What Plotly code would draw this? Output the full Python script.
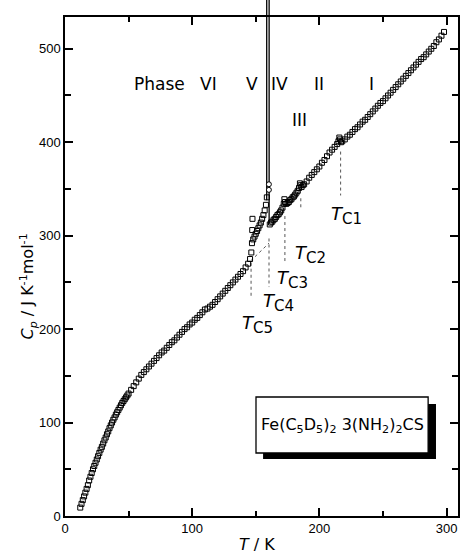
import plotly.graph_objects as go

# ---------------- data ----------------
T_K = [12, 13, 14, 15, 16, 17, 18, 19, 20, 21, 22, 23, 24, 25, 26, 27, 28, 29, 30,
       31, 32, 33, 34, 35, 36, 37, 38, 39, 40, 41, 42, 43, 44, 45, 46, 47, 48, 49, 50,
       52, 54, 56, 58, 60, 62, 64, 66, 68, 70, 72, 74, 76, 78, 80, 82, 84, 86, 88, 90,
       92, 94, 96, 98, 100, 102, 104, 106, 108, 110, 112, 114, 116, 118, 120, 122, 124,
       126, 128, 130, 132, 134, 136, 138, 140, 142, 144, 145.5, 146.5, 147, 147.2, 147.4,
       148, 149, 150, 151, 152, 153, 154, 155, 156, 157, 158, 158.7,
       161, 162, 163, 164, 165, 166, 167, 168, 169, 170, 171, 172, 172.5, 173, 174, 175,
       176, 177, 178, 179, 180, 181, 182, 183, 184, 184.7, 185.3, 186, 187, 188, 190,
       192, 194, 196, 198, 200, 202, 204, 206, 208, 210, 212, 214, 215, 215.7, 216.3,
       217, 218, 220, 222, 224, 226, 228, 230, 232, 234, 236, 238, 240, 242, 244, 246,
       248, 250, 252, 254, 256, 258, 260, 262, 264, 266, 268, 270, 272, 274, 276, 278,
       280, 282, 284, 286, 288, 290, 292, 294, 296, 298]
Cp = [9, 13, 17, 21, 25, 29, 33, 38, 42, 46, 50, 53.5, 57, 60.5, 64, 67.5, 71, 74, 77.5,
      81, 84, 87.5, 90.5, 94, 97, 100, 103, 105.5, 108.5, 111, 113.5, 116, 118.5, 121, 123, 125, 127, 129, 131,
      135, 139, 143, 147, 151, 154, 157, 160, 163, 166, 169, 172, 175, 177, 180, 183, 186, 188, 191, 194,
      197, 200, 202, 205, 207, 210, 212, 215, 218, 221, 222, 224, 226, 229, 232, 235, 238,
      241, 244, 247, 250, 253, 256, 259, 262, 266, 270, 275, 282, 292, 306, 318,
      296, 299, 302, 305, 308, 311, 314, 318, 322, 327, 333, 341,
      312, 314, 315, 317, 318, 320, 322, 323, 325, 327, 330, 334, 339, 336, 334, 335,
      336, 338, 339, 341, 342, 344, 346, 348, 351, 356, 354, 352, 354, 355, 358,
      362, 365, 368, 371, 374, 378, 381, 385, 389, 392, 395, 398, 401, 405, 403,
      400, 401, 403, 406, 408, 411, 414, 416, 419, 422, 424, 427, 430, 433, 436, 439,
      442, 444, 447, 450, 453, 456, 459, 462, 465, 468, 471, 474, 477, 480, 483, 486,
      489, 491, 494, 497, 500, 503, 507, 510, 514, 518]

# off-scale peak at the phase V -> IV transition
peak_T = [158.6, 158.6, 160.5, 160.5]
peak_Cp = [338, 5000, 5000, 313]
peak_pts_T = [160.3, 160.3]
peak_pts_Cp = [355, 349]

# transition temperatures with guide lines and labels
tc_names = ["C1", "C2", "C3", "C4", "C5"]
tc_T = [216.7, 185.4, 172.9, 160.4, 146.3]
tc_top = [390, 340, 321, 297, 271]
tc_bot = [343, 329, 272, 245, 234]
tc_label_T = [221, 193, 179, 168, 151]
tc_label_Cp = [322, 280, 253, 229, 205]

baseline_T = [146, 160.4]
baseline_Cp = [273, 292]

phase_names = ["Phase", "VI", "V", "IV", "III", "II", "I"]
phase_T = [74, 113, 147, 169, 184, 200, 241]
phase_Cp = [462, 462, 462, 462, 424, 462, 462]

x_range = [0, 309]
y_range = [0, 534]

# ---------------- figure ----------------
fig = go.Figure()

for t, a, b in zip(tc_T, tc_top, tc_bot):
    fig.add_trace(go.Scatter(x=[t, t], y=[a, b], mode="lines",
                             line=dict(color="#555", width=1, dash="3px,3px"),
                             showlegend=False, hoverinfo="skip"))
fig.add_trace(go.Scatter(x=baseline_T, y=baseline_Cp, mode="lines",
                         line=dict(color="#555", width=1, dash="3px,3px"),
                         showlegend=False, hoverinfo="skip"))

fig.add_trace(go.Scatter(x=peak_T, y=peak_Cp, mode="lines",
                         line=dict(color="black", width=1.3),
                         showlegend=False, hoverinfo="skip"))

fig.add_trace(go.Scatter(x=T_K, y=Cp, mode="markers",
                         marker=dict(symbol="square-open", size=5,
                                     color="black", line=dict(width=1)),
                         showlegend=False))
fig.add_trace(go.Scatter(x=peak_pts_T, y=peak_pts_Cp, mode="markers",
                         marker=dict(symbol="circle", size=5, color="white",
                                     line=dict(width=1, color="black")),
                         showlegend=False))

span = x_range[1] - x_range[0]
for t in (peak_T[0], peak_T[2]):
    px = (t - x_range[0]) / span
    fig.add_shape(type="line", xref="paper", yref="paper", x0=px, x1=px,
                  y0=1.0, y1=1.04, line=dict(color="black", width=1.3))

font_main = "DejaVu Sans, Liberation Sans, Arial"

for name, t, c in zip(phase_names, phase_T, phase_Cp):
    fig.add_annotation(x=t, y=c, text=name, showarrow=False,
                       xanchor="center", yanchor="middle",
                       font=dict(family=font_main, size=17, color="black"))

for name, t, c in zip(tc_names, tc_label_T, tc_label_Cp):
    fig.add_annotation(x=t, y=c, showarrow=False, xanchor="center", yanchor="middle",
                       text=f"<i>T</i><sub><span style='font-size:15px'>{name}</span></sub>",
                       font=dict(family=font_main, size=18, color="black"))

# compound box with shadow
fig.add_shape(type="rect", xref="paper", yref="paper", x0=0.504, x1=0.944,
              y0=0.1142, y1=0.2244, fillcolor="black", line=dict(width=0))
fig.add_shape(type="rect", xref="paper", yref="paper", x0=0.486, x1=0.924,
              y0=0.1263, y1=0.2385, fillcolor="white",
              line=dict(color="black", width=1.3))
fig.add_annotation(xref="paper", yref="paper", x=0.705, y=0.182, showarrow=False,
                   xanchor="center", yanchor="middle",
                   text="Fe(C<sub>5</sub>D<sub>5</sub>)<sub>2</sub> 3(NH<sub>2</sub>)<sub>2</sub>CS",
                   font=dict(family=font_main, size=16, color="black"))

# axis titles
fig.add_annotation(xref="paper", yref="paper", x=0.489, y=-0.058, showarrow=False,
                   xanchor="center", yanchor="middle",
                   text="<i>T</i> / K", font=dict(family=font_main, size=16, color="black"))
fig.add_annotation(xref="paper", yref="paper", x=-0.094, y=0.46, showarrow=False,
                   xanchor="center", yanchor="middle", textangle=-90,
                   text="<i>C<sub>p</sub></i> / J K<sup>-1</sup>mol<sup>-1</sup>",
                   font=dict(family=font_main, size=16, color="black"))

axis_common = dict(showline=True, linecolor="black", linewidth=1.5, mirror="ticks",
                   ticks="inside", ticklen=8, tickwidth=1.5, tickcolor="black",
                   showgrid=False, zeroline=False,
                   tickfont=dict(family="Liberation Sans, Arial", size=13, color="black"))

fig.update_xaxes(range=x_range, tickvals=[0, 100, 200, 300],
                 minor=dict(tickvals=[50, 150, 250], ticklen=5, tickwidth=1.5,
                            tickcolor="black", ticks="inside"),
                 **axis_common)
fig.update_yaxes(range=y_range, tickvals=[0, 100, 200, 300, 400, 500],
                 minor=dict(tickvals=[50, 150, 250, 350, 450], ticklen=6, tickwidth=1.5,
                            tickcolor="black", ticks="inside"),
                 **axis_common)

fig.update_layout(width=462, height=555, margin=dict(l=65, r=2, t=17, b=39),
                  paper_bgcolor="white", plot_bgcolor="white")

fig.write_html("out.html")
